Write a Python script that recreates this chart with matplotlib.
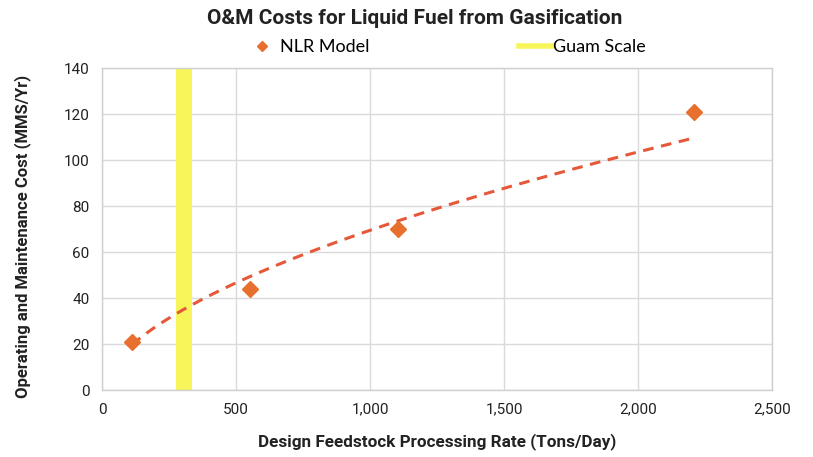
import numpy as np
import matplotlib
matplotlib.use("Agg")
import matplotlib.pyplot as plt
from matplotlib.lines import Line2D

# Data
feed_rate = [112, 552, 1105, 2210]        # tons/day
om_cost = [21, 44, 70, 121]               # MM$/yr
guam_scale = 305                          # tons/day
x_ticks = [0, 500, 1000, 1500, 2000, 2500]
x_tick_labels = ["0", "500", "1,000", "1,500", "2,000", "2,500"]
y_ticks = [0, 20, 40, 60, 80, 100, 120, 140]

title = "O&M Costs for Liquid Fuel from Gasification"
xlabel = "Design Feedstock Processing Rate (Tons/Day)"
ylabel = "Operating and Maintenance Cost (MMS/Yr)"

W, H = 813, 457
fig = plt.figure(figsize=(W / 100, H / 100), dpi=100)
ax = fig.add_axes([102 / W, 1 - 390 / H, (772 - 102) / W, (390 - 68) / H])

orange = "#E8702E"
trend_c = "#E5583A"
yellow = "#F7F55A"
grid_c = "#DADADA"

# Guam scale vertical band
ax.axvline(guam_scale, color=yellow, lw=11.5, zorder=2, solid_capstyle="butt")

# Power trendline fitted to the data
xs = np.array(feed_rate, float)
ys = np.array(om_cost, float)
b, ln_a = np.polyfit(np.log(xs), np.log(ys), 1)
xt = np.linspace(xs.min(), xs.max(), 200)
yt = np.exp(ln_a) * xt ** b
ax.plot(xt, yt, color=trend_c, lw=2.2, ls=(0, (3.5, 2.5)), zorder=3)

ax.plot(feed_rate, om_cost, ls="none", marker="D", ms=8.5, color=orange,
        markeredgecolor=orange, zorder=4)

ax.set_xlim(0, 2500)
ax.set_ylim(0, 140)
ax.set_xticks(x_ticks)
ax.set_xticklabels(x_tick_labels)
ax.set_yticks(y_ticks)
ax.grid(True, color=grid_c, lw=1.0, zorder=0)
ax.set_axisbelow(True)
for s in ax.spines.values():
    s.set_color("#CFCFCF")
    s.set_linewidth(1.0)
ax.tick_params(length=0, labelsize=11, colors="#222222", pad=9)
for lab in ax.get_xticklabels() + ax.get_yticklabels():
    lab.set_fontfamily("Roboto")

ax.set_xlabel(xlabel, fontsize=12.3, fontweight="bold", family="Roboto",
              labelpad=12, color="#222222")
ax.set_ylabel(ylabel, fontsize=12, fontweight="bold", family="Roboto",
              color="#222222")
ax.yaxis.set_label_coords(-(102 - 31) / (772 - 102), (390 - 236) / (390 - 68))

fig.text(415 / W, 1 - 18 / H, title, ha="center", va="center",
         fontsize=15, fontweight="bold", family="Roboto", color="#222222")

h1 = Line2D([], [], ls="none", marker="D", ms=5, color=orange)
leg1 = fig.legend([h1], ["NLR Model"], loc="center left",
                  bbox_to_anchor=(237 / W, 1 - 47 / H), frameon=False,
                  handlelength=1.0, handletextpad=0.5,
                  prop={"family": "Lato", "size": 13})
h2 = Line2D([], [], color=yellow, lw=4)
leg2 = fig.legend([h2], ["Guam Scale"], loc="center left",
                  bbox_to_anchor=(503 / W, 1 - 47 / H), frameon=False,
                  handlelength=1.8, handletextpad=0.05,
                  prop={"family": "Lato", "size": 13})

fig.savefig("out.png", dpi=100, facecolor="white")
